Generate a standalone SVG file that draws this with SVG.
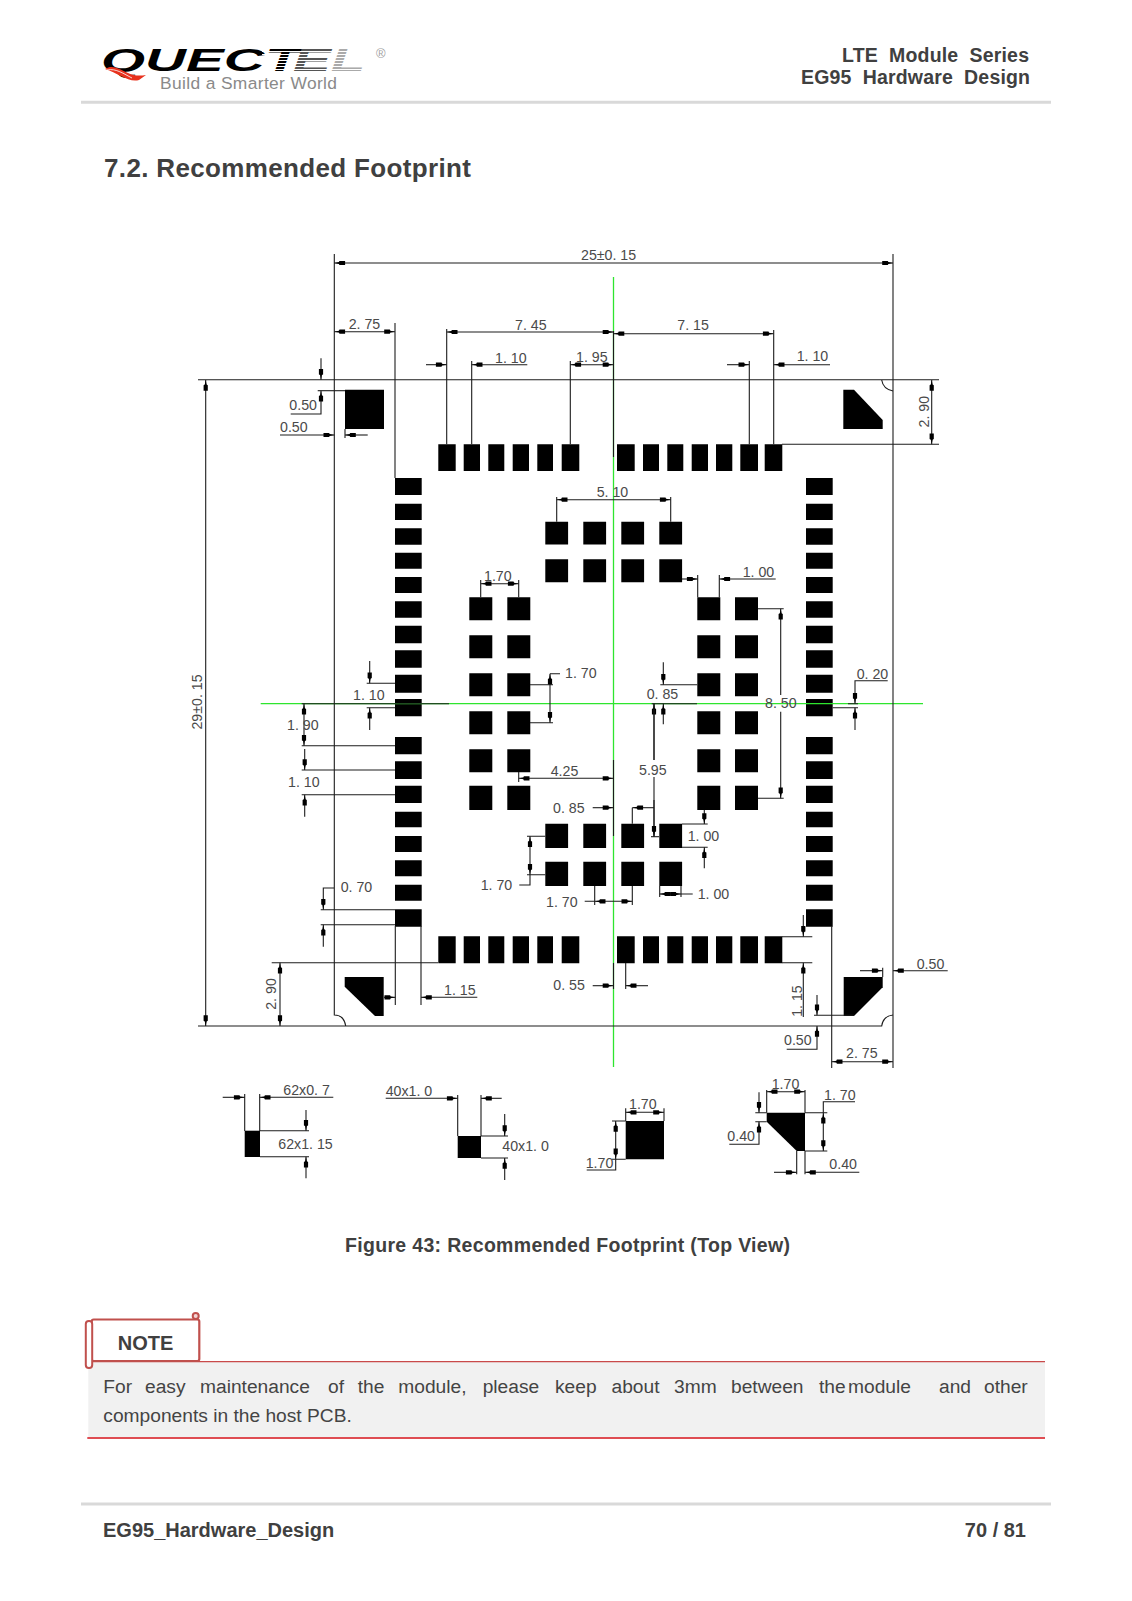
<svg xmlns="http://www.w3.org/2000/svg" width="1132" height="1601" viewBox="0 0 1132 1601">
<style>
text{font-family:"Liberation Sans",Arial,sans-serif}
.h{fill:#404040;font-weight:bold}
.t{font-size:14.2px;fill:#4a4a4a}
.d{fill:none;stroke:#1c1c1c;stroke-width:1.1}
.e{marker-end:url(#ah)}
.b{marker-start:url(#ah);marker-end:url(#ah)}
.g{fill:none;stroke:#2ee52e;stroke-width:1.3}
.p{fill:#000}
.n{fill:#444;font-size:19.2px}
</style>
<defs>
<marker id="ah" markerUnits="userSpaceOnUse" viewBox="0 0 12 6" refX="11.6" refY="3" markerWidth="12" markerHeight="6" orient="auto-start-reverse">
<path d="M11.6 3L7 2.1L6.4 .9L.8 .9L.8 5.1L6.4 5.1L7 3.9Z" fill="#000"/>
</marker>
<linearGradient id="lg" gradientUnits="userSpaceOnUse" x1="101" y1="0" x2="372" y2="0">
<stop offset="0" stop-color="#000"/><stop offset=".6" stop-color="#000"/><stop offset=".75" stop-color="#333"/><stop offset=".88" stop-color="#777"/><stop offset="1" stop-color="#b5b5b5"/>
</linearGradient>
</defs>
<rect width="1132" height="1601" fill="#fff"/>

<g id="header">
<text transform="translate(101,71) scale(1.77,1)" font-size="32" font-weight="bold" font-style="italic" fill="#000">QUECT</text>
<text x="247" y="71" transform="translate(288,71) scale(1.8,1)" font-size="32" font-weight="bold" font-style="italic" fill="none"/>
<text transform="translate(293,71) scale(1.77,1)" font-size="32" font-weight="bold" font-style="italic" fill="#555">E<tspan fill="#aaa">L</tspan></text>
<g stroke="#fff" stroke-width="1">
<path d="M262 51.5H375M262 54.5H375M262 57.5H375M262 60.5H375M262 63.5H375M262 66.5H375M262 69.5H375"/>
</g>
<path d="M105 69C112 64 120 69 128 73C134 76 140 76 146 75L139 80C129 83 118 73 105 69Z" fill="#e8321e"/>
<path d="M107 70C116 68 124 74 132 78" stroke="#fff" stroke-width=".8" fill="none"/>
<text x="160" y="89" font-size="17.4" fill="#8a8a8a" textLength="177">Build a Smarter World</text>
<text x="376" y="58" font-size="13" fill="#a0a0a0">®</text>
<text x="1029" y="62" class="h" font-size="19.5" text-anchor="end" xml:space="preserve" textLength="187">LTE  Module  Series</text>
<text x="1030" y="84" class="h" font-size="19.5" text-anchor="end" xml:space="preserve" textLength="229">EG95  Hardware  Design</text>
<path d="M81 102.3H1051" stroke="#d9d9d9" stroke-width="3"/>
<text x="104" y="177" class="h" font-size="26" textLength="367">7.2. Recommended Footprint</text>
</g>

<g id="pads" class="p">
<path d="M438.3 444.3h17.4v26.7h-17.4zM463.7 444.3h16.3v26.7h-16.3zM488.3 444.3h16v26.7h-16zM512.7 444.3h16.3v26.7h-16.3zM537.3 444.3h15.7v26.7h-15.7zM561.7 444.3h17.6v26.7h-17.6zM617 444.3h17.7v26.7h-17.7zM643 444.3h16v26.7h-16zM667.3 444.3h16v26.7h-16zM691.7 444.3h16.3v26.7h-16.3zM716 444.3h16.3v26.7h-16.3zM740.3 444.3h17.7v26.7h-17.7zM764.7 444.3h17.6v26.7h-17.6z"/>
<path d="M438.3 936.3h17.4v27h-17.4zM463.7 936.3h16.3v27h-16.3zM488.3 936.3h16v27h-16zM512.7 936.3h16.3v27h-16.3zM537.3 936.3h15.7v27h-15.7zM561.7 936.3h17.6v27h-17.6zM617 936.3h17.7v27h-17.7zM643 936.3h16v27h-16zM667.3 936.3h16v27h-16zM691.7 936.3h16.3v27h-16.3zM716 936.3h16.3v27h-16.3zM740.3 936.3h17.7v27h-17.7zM764.7 936.3h17.6v27h-17.6z"/>
<path id="leftcol" d="M395 478h26.7v17h-26.7zM395 503.7h26.7v16.3h-26.7zM395 528.3h26.7v16.4h-26.7zM395 552.7h26.7v16h-26.7zM395 577h26.7v16h-26.7zM395 601.3h26.7v16.4h-26.7zM395 625.7h26.7v17.6h-26.7zM395 650.3h26.7v17.4h-26.7zM395 674.7h26.7v18h-26.7zM395 699h26.7v17.3h-26.7zM395 737h26.7v17.3h-26.7zM395 761.3h26.7v17.7h-26.7zM395 785.7h26.7v17.3h-26.7zM395 811.7h26.7v15.6h-26.7zM395 836h26.7v16h-26.7zM395 860.3h26.7v16h-26.7zM395 884.7h26.7v16h-26.7zM395 909.3h26.7v17.4h-26.7z"/>
<path id="rightcol" d="M806 478h26.7v17h-26.7zM806 503.7h26.7v16.3h-26.7zM806 528.3h26.7v16.4h-26.7zM806 552.7h26.7v16h-26.7zM806 577h26.7v16h-26.7zM806 601.3h26.7v16.4h-26.7zM806 625.7h26.7v17.6h-26.7zM806 650.3h26.7v17.4h-26.7zM806 674.7h26.7v18h-26.7zM806 699h26.7v17.3h-26.7zM806 737h26.7v17.3h-26.7zM806 761.3h26.7v17.7h-26.7zM806 785.7h26.7v17.3h-26.7zM806 811.7h26.7v15.6h-26.7zM806 836h26.7v16h-26.7zM806 860.3h26.7v16h-26.7zM806 884.7h26.7v16h-26.7zM806 909.3h26.7v17.4h-26.7z"/>
<path d="M545.3 521.7h22.8v22.7h-22.8zM583.3 521.7h22.8v22.7h-22.8zM621.3 521.7h22.8v22.7h-22.8zM659.3 521.7h22.8v22.7h-22.8zM545.3 559.3h22.8v23h-22.8zM583.3 559.3h22.8v23h-22.8zM621.3 559.3h22.8v23h-22.8zM659.3 559.3h22.8v23h-22.8z"/>
<path d="M545.3 823.7h22.8v24.3h-22.8zM583.3 823.7h22.8v24.3h-22.8zM621.3 823.7h22.8v24.3h-22.8zM659.3 823.7h22.8v24.3h-22.8zM545.3 861.7h22.8v24.3h-22.8zM583.3 861.7h22.8v24.3h-22.8zM621.3 861.7h22.8v24.3h-22.8zM659.3 861.7h22.8v24.3h-22.8z"/>
<path d="M469.3 597.3h23v23h-23zM507.3 597.3h23v23h-23zM469.3 635.3h23v23h-23zM507.3 635.3h23v23h-23zM469.3 673.3h23v23h-23zM507.3 673.3h23v23h-23zM469.3 711.3h23v23h-23zM507.3 711.3h23v23h-23zM469.3 749.3h23v23h-23zM507.3 749.3h23v23h-23zM469.3 785.7h23v24.3h-23zM507.3 785.7h23v24.3h-23z"/>
<path d="M697.3 597.3h23v23h-23zM735 597.3h23v23h-23zM697.3 635.3h23v23h-23zM735 635.3h23v23h-23zM697.3 673.3h23v23h-23zM735 673.3h23v23h-23zM697.3 711.3h23v23h-23zM735 711.3h23v23h-23zM697.3 749.3h23v23h-23zM735 749.3h23v23h-23zM697.3 785.7h23v24.3h-23zM735 785.7h23v24.3h-23z"/>
<path d="M345 389.7h39V429H345z"/>
<path d="M843.3 389.7H854L882.7 420V429H843.3z"/>
<path d="M344.7 977H383.7V1016H375L344.7 986.7z"/>
<path d="M843.7 977H882.7V987.3L854 1016H843.7z"/>
<path d="M244.7 1130.7h15.3v26.3h-15.3z"/>
<path d="M457.7 1136h23.3v22h-23.3z"/>
<path d="M625.7 1121H664V1159.3H625.7z"/>
<path d="M766.7 1112.7H805V1151H796.7L766.7 1121.7z"/>
</g>

<g id="centerlines" class="g">
<path d="M613.5 277V1067"/>
<path d="M260.7 703.7H923"/>
</g>

<g id="connectors" class="d">
<!-- board outline -->
<path d="M334.3 254V1015Q344 1015 345.7 1026"/>
<path d="M893 254V1068"/>
<path d="M198 379.7H939"/>
<path d="M198 1026H881.7Q883 1016 893 1015"/>
<path d="M881.7 380Q883 389 893 391"/>
<!-- centre overlays -->
<path d="M613.5 331V457M613.5 760V836M613.5 963V989M301.7 703.7H449M651.7 703.7H697"/>
<!-- top dims -->
<path class="d b" d="M334.3 263H893"/>
<path class="d b" d="M334.3 331.7H395"/>
<path d="M395 323V478"/>
<path class="d b" d="M446.7 332H613.5"/>
<path class="d b" d="M613.5 333.7H773.7"/>
<path d="M446.7 329V444.3M471.7 361V444.3M570.3 361V444.3M749.3 361V444.3M773.7 330V444.3"/>
<path class="d e" d="M426 364.7H446.7"/>
<path class="d e" d="M527.3 364.7H471.7"/>
<path class="d b" d="M570.3 364.7H613.5"/>
<path class="d e" d="M727 364.7H749.3"/>
<path class="d e" d="M830 364.7H773.7"/>
<path class="d b" d="M931.7 380V444.3"/>
<path d="M782 444.3H939"/>
<path class="d b" d="M205.7 380V1026"/>
<!-- top-left corner -->
<path class="d e" d="M321 358.3V379.7"/>
<path class="d e" d="M290.7 414H321V390.7"/>
<path d="M317.7 390.7H345"/>
<path class="d e" d="M280 435H334.3"/>
<path class="d e" d="M367.7 435H345"/>
<path d="M345 429V438"/>
<!-- 5.10 -->
<path class="d b" d="M556.7 499.7H670.7"/>
<path d="M556.7 497V521.7M670.7 497V521.7"/>
<!-- 1.70 left group -->
<path class="d b" d="M480.7 583.7H518.7"/>
<path d="M480.7 580V597.3M518.7 580V597.3"/>
<path d="M530 684.7H553M530 722.7H553M550 673.7H560"/>
<path class="d b" d="M550 673.7V722.7"/>
<path class="d b" d="M518.7 778.3H613.5"/>
<path d="M518.7 772V782"/>
<!-- left side -->
<path d="M301.7 745.7H395M301.7 770H395M301.7 794.7H395"/>
<path class="d b" d="M304 703.7V745.7"/>
<path class="d e" d="M304.7 749V770"/>
<path class="d e" d="M304.7 816.7V794.7"/>
<path class="d e" d="M369.7 661V683.3"/>
<path class="d e" d="M369.7 730V707.7"/>
<path d="M366.7 683.3H395M366.7 707.7H395"/>
<!-- 0.85 / 5.95 -->
<path class="d e" d="M592.7 807.7H613.5"/>
<path class="d e" d="M654 807.7H632.3"/>
<path d="M632.3 807.7V823.7"/>
<path class="d e" d="M654 760V703.7" transform="translate(0,0)"/>
<path d="M654 703.7V760"/>
<path d="M654 777V836.7"/>
<path class="d e" d="M654 800V836.7"/>
<path d="M651 836.7H659"/>
<path d="M660.3 684.7H697.3"/>
<path class="d e" d="M663.3 662.3V684.7"/>
<path class="d e" d="M663.3 724.3V703.7"/>
<!-- 1.00 top -->
<path class="d e" d="M682 579H697.7"/>
<path class="d e" d="M775.7 579H719.3"/>
<path d="M697.7 575V597.3M719.3 575V597.3"/>
<!-- 8.50 -->
<path d="M758 608.7H783.7M758 798.3H783.7"/>
<path class="d e" d="M780.7 695V608.7"/>
<path class="d e" d="M780.7 711.7V798.3"/>
<!-- 0.20 -->
<path class="d e" d="M887.7 680.7H855V703.7"/>
<path d="M848 703.7H858M832.7 707.7H858"/>
<path class="d e" d="M855 730V707.7"/>
<!-- 1.00 inner bottom -->
<path d="M682 824H707.7M682 847.3H707.7"/>
<path class="d e" d="M704.3 810V824"/>
<path class="d e" d="M704.3 868.3V847.3"/>
<path class="d b" d="M659.7 894H681"/>
<path d="M681 894H692.7M659.7 886V897M681 886V897"/>
<path class="d b" d="M594.7 901.3H632.3"/>
<path d="M584.7 901.3H594.7M594.7 886V905M632.3 886V905"/>
<path d="M527 836.3H545.3M527 874.7H545.3"/>
<path class="d b" d="M530 836.3V874.7"/>
<path d="M530 874.7V885H519.3"/>
<!-- lower left -->
<path class="d e" d="M334 888H323.3V909.7"/>
<path d="M320.7 909.7H395M320.7 924.7H395"/>
<path class="d e" d="M323.3 946.7V924.7"/>
<path d="M395.3 926V1005M421 926V1005"/>
<path class="d e" d="M477.3 997.3H421"/>
<path class="d e" d="M384 997.3H395.3"/>
<path d="M271.7 962.7H438"/>
<path class="d b" d="M280 962.7V1026"/>
<path class="d e" d="M592.7 985.7H613.5"/>
<path class="d e" d="M648 985.7H625.7"/>
<path d="M625.7 963V989"/>
<!-- lower right -->
<path class="d e" d="M803.3 915V936.7"/>
<path d="M782 936.7H812.3M782 962.7H812.3"/>
<path class="d e" d="M803.3 1017V962.7"/>
<path class="d e" d="M947.7 970.7H893"/>
<path class="d e" d="M860 970.7H882.7"/>
<path d="M882.7 967.7V977"/>
<path class="d e" d="M817 995V1015.3"/>
<path d="M814 1015.3H854"/>
<path class="d e" d="M786.7 1049.3H817V1026"/>
<path d="M831.7 926V1068"/>
<path class="d b" d="M831.7 1061.7H893"/>
<!-- detail 1 -->
<path d="M244.7 1094V1131M259.7 1094V1131M260 1130.7H309M260 1156.7H309"/>
<path class="d e" d="M222.7 1097.3H244.7"/>
<path class="d e" d="M333.3 1097.3H259.7"/>
<path class="d e" d="M306 1110V1130.7"/>
<path class="d e" d="M306 1178.3V1156.7"/>
<!-- detail 2 -->
<path d="M457.7 1095V1136M481 1095V1136M481 1136H508M481 1158H508"/>
<path class="d e" d="M385.7 1098.3H457.7"/>
<path class="d e" d="M501.7 1098.3H481"/>
<path class="d e" d="M504.7 1114V1136"/>
<path class="d e" d="M504.7 1180V1158"/>
<!-- detail 3 -->
<path d="M625.7 1108.3V1121M664 1108.3V1121"/>
<path class="d b" d="M625.7 1112.3H664"/>
<path d="M612 1121H625.7M612 1159.3H625.7"/>
<path class="d b" d="M615.7 1121V1159.3"/>
<path d="M615.7 1159.3V1170H586.7"/>
<!-- detail 4 -->
<path d="M766.7 1090V1112.7M805 1090V1112.7"/>
<path class="d b" d="M766.7 1091.7H805"/>
<path d="M805 1112.7H827.3M805 1151H827.3"/>
<path class="d b" d="M823.3 1112.7V1151"/>
<path d="M823.3 1112.7V1101.7H855"/>
<path class="d e" d="M759 1092.3V1112.7"/>
<path d="M755.3 1112.7H766.7M755.3 1121.7H766.7"/>
<path class="d e" d="M729.3 1144.3H759V1121.7"/>
<path d="M796.7 1151V1174.3M805 1151V1174.3"/>
<path class="d e" d="M774 1172.3H796.7"/>
<path class="d e" d="M859.3 1172.3H805"/>
</g>

<g id="labels" class="t">
<text x="581" y="260">25±0. 15</text>
<text x="348.7" y="329">2. 75</text>
<text x="515" y="330">7. 45</text>
<text x="677.3" y="330">7. 15</text>
<text x="495" y="363">1. 10</text>
<text x="576" y="362">1. 95</text>
<text x="796.7" y="361">1. 10</text>
<text x="289.3" y="410">0.50</text>
<text x="280" y="432">0.50</text>
<text transform="rotate(-90 929 411.7)" x="929" y="411.7" text-anchor="middle">2. 90</text>
<text x="596.7" y="497">5. 10</text>
<text x="484" y="581">1.70</text>
<text x="742.7" y="577">1. 00</text>
<text x="565" y="678">1. 70</text>
<text x="856.7" y="679">0. 20</text>
<text x="353" y="700">1. 10</text>
<text x="646.7" y="699">0. 85</text>
<text x="765" y="708">8. 50</text>
<text x="287" y="730">1. 90</text>
<text x="550.7" y="776">4.25</text>
<text x="639" y="775">5.95</text>
<text x="288" y="787">1. 10</text>
<text x="553" y="813">0. 85</text>
<text x="687.7" y="841">1. 00</text>
<text x="480.7" y="890">1. 70</text>
<text x="340.7" y="892">0. 70</text>
<text x="697.7" y="899">1. 00</text>
<text x="546" y="907">1. 70</text>
<text x="916.7" y="969">0.50</text>
<text x="553.3" y="990">0. 55</text>
<text x="444" y="995">1. 15</text>
<text transform="rotate(-90 201.7 702)" x="201.7" y="702" text-anchor="middle">29±0. 15</text>
<text transform="rotate(-90 276 994)" x="276" y="994" text-anchor="middle">2. 90</text>
<text transform="rotate(-90 801.7 1001)" x="801.7" y="1001" text-anchor="middle">1. 15</text>
<text x="784" y="1045">0.50</text>
<text x="846" y="1058">2. 75</text>
<text x="283.3" y="1095">62x0. 7</text>
<text x="278.3" y="1149">62x1. 15</text>
<text x="385.7" y="1096">40x1. 0</text>
<text x="502.3" y="1151">40x1. 0</text>
<text x="629" y="1109">1.70</text>
<text x="585.7" y="1168">1.70</text>
<text x="771.7" y="1089">1.70</text>
<text x="824" y="1100">1. 70</text>
<text x="727.3" y="1141">0.40</text>
<text x="829.3" y="1169">0.40</text>
</g>

<text id="caption" x="345" y="1252" class="h" font-size="19.5" textLength="445">Figure 43: Recommended Footprint (Top View)</text>

<g id="note">
<rect x="88.3" y="1362" width="956.7" height="75" fill="#f1f1f1"/>
<path d="M91 1361.7H1045" stroke="#c94a4a" stroke-width="1.3"/>
<path d="M87.3 1438H1045" stroke="#d4121a" stroke-width="1.3"/>
<rect x="91.7" y="1319.5" width="107.6" height="41.5" rx="2" fill="#fff" stroke="#c0504d" stroke-width="2.2"/>
<rect x="85.8" y="1321" width="6.4" height="47" rx="3" fill="#fff" stroke="#c0504d" stroke-width="2"/>
<circle cx="195.7" cy="1316" r="3" fill="#f2d5d4" stroke="#c0504d" stroke-width="2"/>
<text x="117.7" y="1350" class="h" font-size="20">NOTE</text>
<text y="1393.3" class="n"><tspan x="103.3">For</tspan><tspan x="145">easy</tspan><tspan x="200">maintenance</tspan><tspan x="328">of</tspan><tspan x="357.7">the</tspan><tspan x="398.3">module,</tspan><tspan x="482.7">please</tspan><tspan x="555">keep</tspan><tspan x="611.5">about</tspan><tspan x="674">3mm</tspan><tspan x="731">between</tspan><tspan x="819">the</tspan><tspan x="848">module</tspan><tspan x="939">and</tspan><tspan x="984">other</tspan></text>
<text x="103.3" y="1422.3" class="n">components in the host PCB.</text>
</g>

<g id="footer">
<path d="M81 1504H1051" stroke="#d9d9d9" stroke-width="3"/>
<text x="103" y="1537" class="h" font-size="20">EG95_Hardware_Design</text>
<text x="1026" y="1537" class="h" font-size="20" text-anchor="end">70 / 81</text>
</g>
</svg>
